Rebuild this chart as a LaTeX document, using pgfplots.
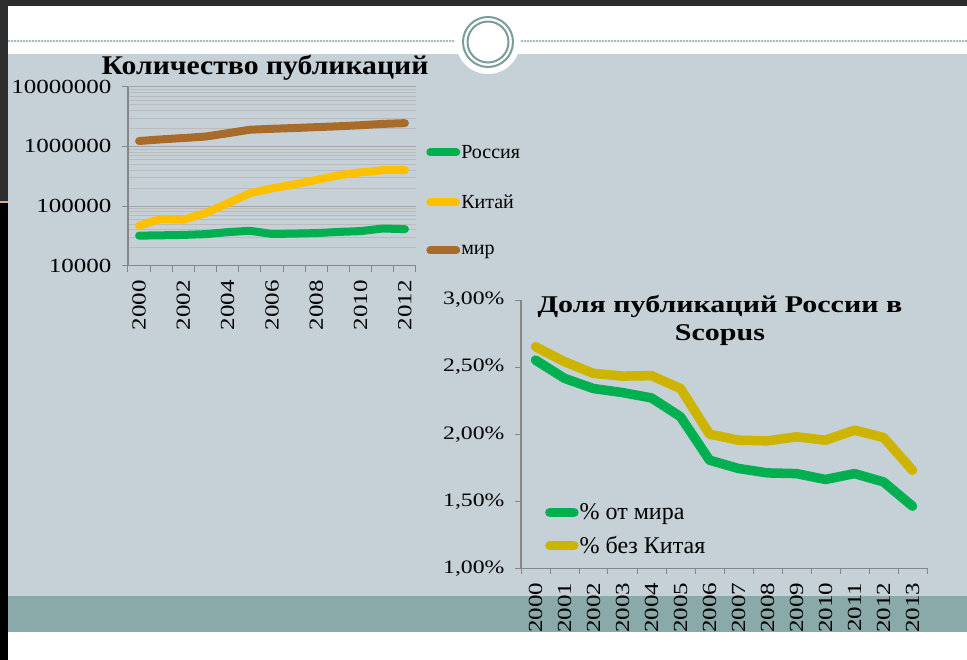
\documentclass[border=0pt]{standalone}
\usepackage{fontspec}
\setmainfont{Liberation Serif}
\newfontfamily\numfont[FakeStretch=1.25]{Liberation Serif}
\newfontfamily\titlefont[FakeStretch=1.1]{Liberation Serif}
\newfontfamily\titlefontb[FakeStretch=1.25]{Liberation Serif}
\usepackage{pgfplots}
\pgfplotsset{compat=1.18}
\definecolor{panel}{RGB}{198,209,215}
\definecolor{tealband}{RGB}{138,170,169}
\definecolor{ring}{RGB}{122,156,154}
\definecolor{darkstrip}{RGB}{45,45,45}
\definecolor{cgreen}{RGB}{0,176,80}
\definecolor{corange}{RGB}{255,192,0}
\definecolor{cbrown}{RGB}{168,107,42}
\definecolor{cgold}{RGB}{204,180,0}
\definecolor{axgray}{RGB}{134,134,134}
\definecolor{gridgray}{RGB}{165,165,165}
\begin{document}
\begin{tikzpicture}
\path[use as bounding box] (0pt,0pt) rectangle (967pt,-660pt);
\fill[white] (0pt,0pt) rectangle (967pt,-660pt);
\fill[panel] (8pt,-54pt) rectangle (967pt,-596pt);
\fill[tealband] (8pt,-596pt) rectangle (967pt,-632pt);
\draw[ring!70, dash pattern=on 2pt off 1pt, line width=1.2pt] (8pt,-41pt) -- (455pt,-41pt);
\draw[ring!70, dash pattern=on 2pt off 1pt, line width=1.2pt] (521pt,-41pt) -- (967pt,-41pt);
\fill[white] (488pt,-42pt) circle (32pt);
\draw[ring, line width=2pt] (488pt,-42pt) circle (25pt);
\draw[ring, line width=2pt] (488pt,-42pt) circle (20.5pt);
\node[font=\titlefont\bfseries\fontsize{27}{30}\selectfont] at (265pt,-68pt) {Количество публикаций};
% ---------------- chart 1
\begin{axis}[
  at={(128pt,-265.7pt)}, anchor=south west,
  scale only axis, width=288pt, height=179pt,
  ymode=log, ymin=1e4, ymax=1e7,
  xmin=1999.5, xmax=2012.5,
  axis lines=left, axis line style={-, axgray, line width=1.3pt},
  xtick={1999.5,2000.5,...,2012.5}, xticklabels={},
  extra x ticks={2000,2002,2004,2006,2008,2010,2012},
  extra x tick labels={2000,2002,2004,2006,2008,2010,2012},
  extra x tick style={major tick length=0pt},
  ytick={1e4,1e5,1e6,1e7}, yticklabels={10000,100000,1000000,10000000},
  ymajorgrids, yminorgrids,
  major grid style={gridgray, line width=0.8pt},
  minor grid style={gridgray!75, line width=0.7pt},
  tick align=outside, major tick length=6pt, minor tick length=0pt,
  tick style={axgray, line width=1pt},
  /pgf/number format/assume math mode=true,
  ticklabel style={font=\numfont\fontsize{20}{22}\selectfont},
  xticklabel style={rotate=90, anchor=east},
  xticklabel shift=11pt, yticklabel shift=7pt,
  legend style={at={(1.035,0.68)}, anchor=north west, draw=none, fill=none,
    font=\fontsize{20}{22}\selectfont, row sep=33pt, inner sep=0pt,
    nodes={inner sep=1pt}},
  legend cell align=left,
  legend image code/.code={\draw[#1, line cap=round] (0pt,0pt) -- (26pt,0pt);},
]
\addplot[cgreen, line width=8pt, line cap=round, line join=round] coordinates {
 (2000,31900) (2001,32300) (2002,32800) (2003,33800) (2004,36500) (2005,38500)
 (2006,34000) (2007,34500) (2008,35200) (2009,36800) (2010,38000) (2011,42000) (2012,41000)};
\addlegendentry{Россия}
\addplot[corange, line width=8pt, line cap=round, line join=round] coordinates {
 (2000,47000) (2001,61000) (2002,59000) (2003,76000) (2004,111000) (2005,164000)
 (2006,198000) (2007,230000) (2008,274000) (2009,327000) (2010,367000) (2011,398000) (2012,400000)};
\addlegendentry{Китай}
\addplot[cbrown, line width=8pt, line cap=round, line join=round] coordinates {
 (2000,1230000) (2001,1310000) (2002,1380000) (2003,1460000) (2004,1660000) (2005,1900000)
 (2006,1970000) (2007,2030000) (2008,2100000) (2009,2170000) (2010,2260000) (2011,2380000) (2012,2450000)};
\addlegendentry{мир}
\end{axis}
% ---------------- chart 2
\begin{axis}[
  at={(521pt,-568.3pt)}, anchor=south west,
  scale only axis, width=406pt, height=268.3pt,
  ymin=1, ymax=3, xmin=1999.5, xmax=2013.5,
  axis lines=left, axis line style={-, axgray, line width=1.3pt},
  xtick={1999.5,2000.5,...,2013.5}, xticklabels={},
  extra x ticks={2000,2001,...,2013},
  extra x tick labels={2000,2001,2002,2003,2004,2005,2006,2007,2008,2009,2010,2011,2012,2013},
  extra x tick style={major tick length=0pt},
  ytick={1,1.5,2,2.5,3}, yticklabels={{1,00\%},{1,50\%},{2,00\%},{2,50\%},{3,00\%}},
  tick align=outside, major tick length=6pt,
  tick style={axgray, line width=1pt},
  /pgf/number format/assume math mode=true,
  ticklabel style={font=\numfont\fontsize{19}{22}\selectfont},
  xticklabel style={rotate=90, anchor=east, font=\numfont\fontsize{20}{22}\selectfont},
  xticklabel shift=11pt, yticklabel shift=7pt,
  title={Доля публикаций России в\\Scopus},
  title style={at={(0.49,0.90)}, anchor=center, align=center,
    font=\titlefontb\bfseries\fontsize{24}{28}\selectfont},
  legend style={at={(0.059,0.245)}, anchor=north west, draw=none, fill=none,
    font=\fontsize{24}{26}\selectfont, row sep=13pt, inner sep=0pt,
    nodes={inner sep=1pt}},
  legend cell align=left,
  legend image code/.code={\draw[#1, line cap=round] (0pt,0pt) -- (24pt,0pt);},
]
\addplot[cgreen, line width=9.5pt, line cap=round, line join=round] coordinates {
 (2000,2.552) (2001,2.416) (2002,2.34) (2003,2.31) (2004,2.27) (2005,2.13) (2006,1.806)
 (2007,1.744) (2008,1.711) (2009,1.706) (2010,1.662) (2011,1.706) (2012,1.644) (2013,1.463)};
\addlegendentry{\% от мира}
\addplot[cgold, line width=9.5pt, line cap=round, line join=round] coordinates {
 (2000,2.652) (2001,2.54) (2002,2.453) (2003,2.433) (2004,2.436) (2005,2.34) (2006,2.0)
 (2007,1.955) (2008,1.95) (2009,1.98) (2010,1.955) (2011,2.03) (2012,1.975) (2013,1.731)};
\addlegendentry{\% без Китая}
\end{axis}
% ---------------- frame strips
\fill[darkstrip] (0pt,0pt) rectangle (967pt,-6pt);
\fill[darkstrip] (0pt,0pt) rectangle (8pt,-202pt);
\fill[black] (0pt,-202pt) rectangle (8pt,-660pt);
\fill[brown!60] (0pt,-201pt) rectangle (8pt,-203pt);
\end{tikzpicture}
\end{document}
